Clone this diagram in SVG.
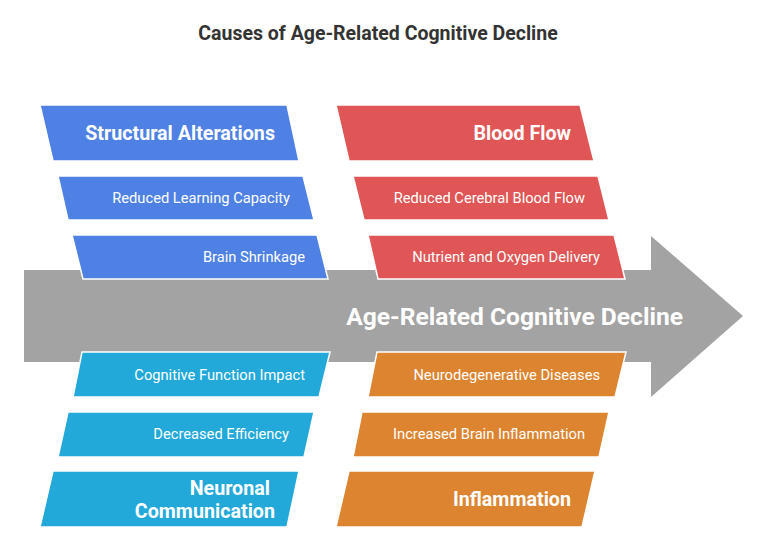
<svg xmlns="http://www.w3.org/2000/svg" width="768" height="550" viewBox="0 0 768 550">
<style>
.t{font-family:Roboto,"Liberation Sans",sans-serif;fill:#fff;text-anchor:end;dominant-baseline:central}
.h{font-size:19.7px;font-weight:bold}
.s{font-size:14.7px}
.b{fill:#4E81E3;stroke:#fff;stroke-width:1.5}
.r{fill:#E05555;stroke:#fff;stroke-width:1.5}
.c{fill:#22A8D9;stroke:#fff;stroke-width:1.5}
.o{fill:#DC8430;stroke:#fff;stroke-width:1.5}
</style>
<rect width="768" height="550" fill="#fff"/>
<text x="378" y="33" font-family="Roboto,'Liberation Sans',sans-serif" font-size="19.5" font-weight="bold" fill="#333" text-anchor="middle" dominant-baseline="central">Causes of Age-Related Cognitive Decline</text>
<g id="connectors">
<g id="main-arrow">
<polygon points="24,270 651,270 651,236 743,316 651,397 651,362 24,362" fill="#A3A3A3"/>
<text class="t" x="683" y="316" font-size="24.6" font-weight="bold">Age-Related Cognitive Decline</text>
</g>
</g>
<g id="structural-alterations"><polygon class="b" points="40,105 287,105 299,161 53,161"/><text class="t h" x="275" y="133">Structural Alterations</text></g>
<g id="reduced-learning"><polygon class="b" points="58,176 303,176 314,220 68,220"/><text class="t s" x="290" y="198">Reduced Learning Capacity</text></g>
<g id="brain-shrinkage"><polygon class="b" points="72,235 317,235 328,279 83,279"/><text class="t s" x="305" y="257">Brain Shrinkage</text></g>
<g id="blood-flow"><polygon class="r" points="336,105 580,105 594,161 349,161"/><text class="t h" x="571" y="133">Blood Flow</text></g>
<g id="reduced-cerebral"><polygon class="r" points="353,176 598,176 609,220 364,220"/><text class="t s" x="585" y="198">Reduced Cerebral Blood Flow</text></g>
<g id="nutrient"><polygon class="r" points="368,235 614,235 625,279 378,279"/><text class="t s" x="600" y="257">Nutrient and Oxygen Delivery</text></g>
<g id="cognitive-function"><polygon class="c" points="82,352 330,352 319,397 73,397"/><text class="t s" x="305" y="375">Cognitive Function Impact</text></g>
<g id="decreased-efficiency"><polygon class="c" points="68,412 314,412 304,457 58,457"/><text class="t s" x="289" y="434">Decreased Efficiency</text></g>
<g id="neuronal-communication"><polygon class="c" points="53,471 299,471 287,527 40,527"/><text class="t h" x="270" y="488">Neuronal</text><text class="t h" x="275" y="511">Communication</text></g>
<g id="neurodegenerative"><polygon class="o" points="377,352 626,352 615,397 368,397"/><text class="t s" x="600" y="375">Neurodegenerative Diseases</text></g>
<g id="increased-inflammation"><polygon class="o" points="362,412 609,412 599,457 353,457"/><text class="t s" x="585" y="434">Increased Brain Inflammation</text></g>
<g id="inflammation"><polygon class="o" points="349,471 595,471 582,527 336,527"/><text class="t h" x="571" y="499">Inflammation</text></g>
</svg>
